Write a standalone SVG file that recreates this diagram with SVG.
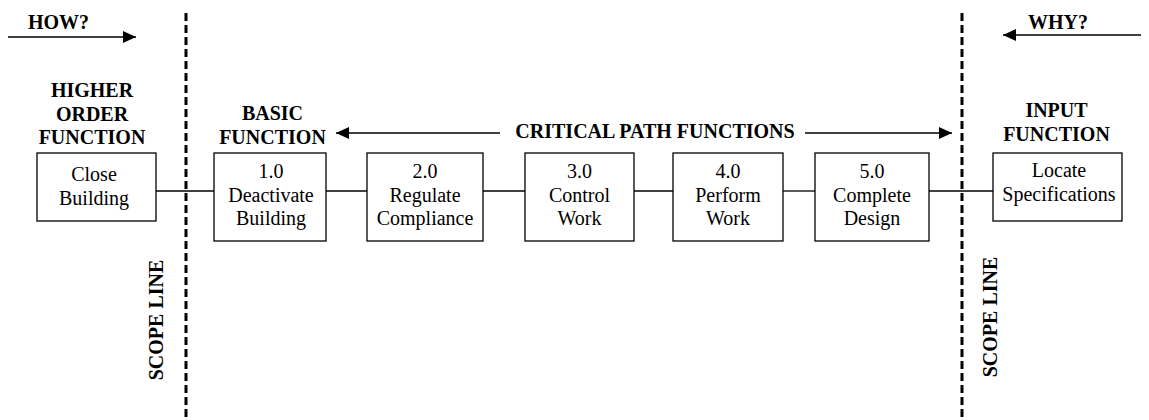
<svg xmlns="http://www.w3.org/2000/svg" width="1149" height="420" viewBox="0 0 1149 420" font-family="Liberation Serif, Tinos, Times New Roman, DejaVu Serif, serif">
<style>
text{font-family:'Liberation Serif',Tinos,'Times New Roman','DejaVu Serif',serif;font-size:20px;fill:#000}
.b{font-weight:bold}
.box{fill:#fff;stroke:#000;stroke-width:1.3}
.ln{stroke:#000;stroke-width:1.3;fill:none}
.arr{stroke:#000;stroke-width:1.5;fill:none}
.scope{stroke:#000;stroke-width:3;stroke-dasharray:8 4;fill:none}
</style>
<defs>
<marker id="ah" viewBox="0 0 13 12" refX="13" refY="6" markerWidth="13" markerHeight="12" markerUnits="userSpaceOnUse" orient="auto">
<path d="M0,0 L13,6 L0,12 Z" fill="#000"/>
</marker>
</defs>
<g id="scope-lines">
<line class="scope" x1="186" y1="13" x2="186" y2="420"/>
<line class="scope" x1="962" y1="13" x2="962" y2="420"/>
<text class="b" transform="rotate(-90 163 320)" x="163" y="320" text-anchor="middle">SCOPE LINE</text>
<text class="b" transform="rotate(-90 997 317)" x="997" y="317" text-anchor="middle">SCOPE LINE</text>
</g>
<g id="how">
<text class="b" x="28" y="29">HOW?</text>
<line class="arr" x1="8" y1="37" x2="136" y2="37" marker-end="url(#ah)"/>
</g>
<g id="why">
<text class="b" x="1028" y="29">WHY?</text>
<line class="arr" x1="1141" y1="35" x2="1003" y2="35" marker-end="url(#ah)"/>
</g>
<g id="critical-path">
<text class="b" x="655" y="138" text-anchor="middle">CRITICAL PATH FUNCTIONS</text>
<line class="arr" x1="500" y1="133" x2="336" y2="133" marker-end="url(#ah)"/>
<line class="arr" x1="805" y1="133" x2="952" y2="133" marker-end="url(#ah)"/>
</g>
<g id="labels">
<text class="b" text-anchor="middle"><tspan x="92" y="97">HIGHER</tspan><tspan x="92" y="120.5">ORDER</tspan><tspan x="92" y="144">FUNCTION</tspan></text>
<text class="b" text-anchor="middle"><tspan x="272.5" y="120">BASIC</tspan><tspan x="272.5" y="144">FUNCTION</tspan></text>
<text class="b" text-anchor="middle"><tspan x="1056.5" y="117">INPUT</tspan><tspan x="1056.5" y="141">FUNCTION</tspan></text>
</g>
<g id="connectors">
<line class="ln" x1="156" y1="191" x2="214" y2="191"/>
<line class="ln" x1="326" y1="191" x2="367" y2="191"/>
<line class="ln" x1="483" y1="191" x2="525" y2="191"/>
<line class="ln" x1="634" y1="191" x2="673" y2="191"/>
<line class="ln" x1="783" y1="191" x2="815" y2="191"/>
<line class="ln" x1="929" y1="191" x2="993" y2="191"/>
</g>
<g id="close-building">
<rect class="box" x="37" y="153" width="119" height="68"/>
<text text-anchor="middle"><tspan x="94" y="181">Close</tspan><tspan x="94" y="204.5">Building</tspan></text>
</g>
<g id="f1">
<rect class="box" x="214" y="153" width="112" height="88"/>
<text text-anchor="middle"><tspan x="271" y="177.5">1.0</tspan><tspan x="271" y="201.5">Deactivate</tspan><tspan x="271" y="225">Building</tspan></text>
</g>
<g id="f2">
<rect class="box" x="367" y="153" width="116" height="88"/>
<text text-anchor="middle"><tspan x="425" y="177.5">2.0</tspan><tspan x="425" y="201.5">Regulate</tspan><tspan x="425" y="225">Compliance</tspan></text>
</g>
<g id="f3">
<rect class="box" x="525" y="153" width="109" height="88"/>
<text text-anchor="middle"><tspan x="579.5" y="177.5">3.0</tspan><tspan x="579.5" y="201.5">Control</tspan><tspan x="579.5" y="225">Work</tspan></text>
</g>
<g id="f4">
<rect class="box" x="673" y="153" width="110" height="88"/>
<text text-anchor="middle"><tspan x="728" y="177.5">4.0</tspan><tspan x="728" y="201.5">Perform</tspan><tspan x="728" y="225">Work</tspan></text>
</g>
<g id="f5">
<rect class="box" x="815" y="153" width="114" height="88"/>
<text text-anchor="middle"><tspan x="872" y="177.5">5.0</tspan><tspan x="872" y="201.5">Complete</tspan><tspan x="872" y="225">Design</tspan></text>
</g>
<g id="locate-specifications">
<rect class="box" x="993" y="153" width="129" height="68"/>
<text text-anchor="middle"><tspan x="1059" y="177">Locate</tspan><tspan x="1059" y="200.5">Specifications</tspan></text>
</g>
</svg>
